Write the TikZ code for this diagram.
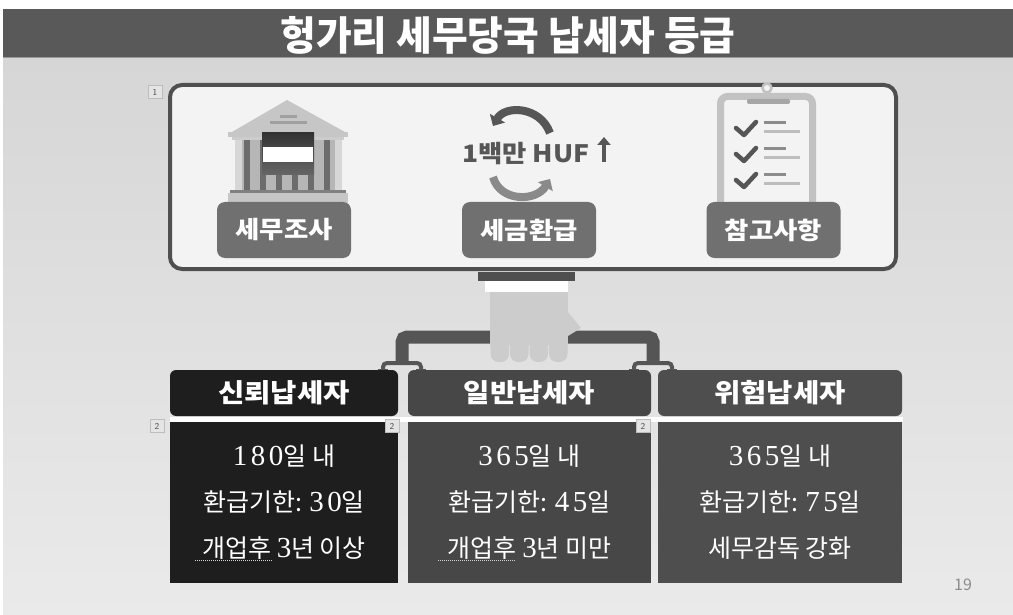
\documentclass[tikz,border=0pt]{standalone}
\usepackage{fontspec}
\setmainfont{Liberation Serif}
\newfontfamily\kr{Noto Sans CJK KR}
\newfontfamily\krtitle{Noto Sans CJK KR}[FakeStretch=0.97]
\newfontfamily\krwide{Noto Sans CJK KR}[FakeStretch=1.1]
\newfontfamily\numfont{Liberation Serif}[LetterSpace=12]
\usetikzlibrary{arrows.meta}

\definecolor{titlebar}{HTML}{595959}
\definecolor{bgtop}{HTML}{D6D6D6}
\definecolor{bgbot}{HTML}{EAEAEA}
\definecolor{frame}{HTML}{4F4F4F}
\definecolor{panelfill}{HTML}{F3F3F3}
\definecolor{tagfill}{HTML}{707070}
\definecolor{darkicon}{HTML}{565656}
\definecolor{lighticon}{HTML}{8A8A8A}
\definecolor{rooflight}{HTML}{C6C6C6}
\definecolor{roofline}{HTML}{A0A0A0}
\definecolor{colmdark}{HTML}{6C6C6C}
\definecolor{clipframe}{HTML}{C2C2C2}
\definecolor{clipbar}{HTML}{A6A6A6}
\definecolor{checkgray}{HTML}{555555}
\definecolor{shortline}{HTML}{8C8C8C}
\definecolor{longline}{HTML}{BDBDBD}
\definecolor{pipegray}{HTML}{555555}
\definecolor{handgray}{HTML}{CCCCCC}
\definecolor{headA}{HTML}{1E1E1E}
\definecolor{headB}{HTML}{474747}
\definecolor{headC}{HTML}{4E4E4E}
\definecolor{markfill}{HTML}{E4E4E4}
\definecolor{markdraw}{HTML}{BDBDBD}
\definecolor{pagegray}{HTML}{8C8C8C}

% digits of the body text are set in a letter-spaced serif face
\newcommand\dg[1]{{\numfont\fontsize{29}{46}\selectfont #1}}

\tikzset{
  tag/.style={fill=tagfill, rounded corners=8pt, minimum width=134pt,
    minimum height=56pt, text=white, inner sep=0pt,
    font=\krwide\bfseries\fontsize{24}{24}\selectfont},
  head/.style={rounded corners=6pt, minimum height=46pt, text=white,
    inner sep=0pt, font=\krwide\bfseries\fontsize{26}{26}\selectfont},
  body/.style={minimum height=161pt, text=white, align=center, inner sep=0pt,
    font=\kr\fontsize{25}{46}\selectfont},
  marker/.style={fill=markfill, draw=markdraw, line width=0.6pt,
    minimum width=14pt, minimum height=13pt, inner sep=0pt,
    font=\sffamily\fontsize{9}{9}\selectfont, text=black!70},
  pipe/.style={draw=pipegray, line width=13pt, rounded corners=5pt},
  forkline/.style={draw=pipegray, line width=4pt},
  squiggle/.style={draw=white!65!gray, line width=1pt, dash pattern=on 1pt off 1pt},
  fork/.pic={
    \draw[forkline, rounded corners=4pt] (-19,9) -- (-19,1) -- (19,1) -- (19,9);
    \fill[pipegray] (-24,7) rectangle (-14,10);
    \fill[pipegray] (14,7) rectangle (24,10);
  },
}

\begin{document}
\begin{tikzpicture}[x=1pt,y=-1pt]
\useasboundingbox (0,0) rectangle (1013,615);
\fill[white] (0,0) rectangle (1013,615);
\shade[top color=bgtop, bottom color=bgbot] (3,57) rectangle (1013,615);

% title bar
\fill[titlebar] (3,9) rectangle (1013,57);
\draw[gray!80, line width=1.5pt] (3,57.5) -- (1013,57.5);
\node[text=white, font=\krtitle\bfseries\fontsize{40}{40}\selectfont] (title) at (508,35) {헝가리 세무당국 납세자 등급};

% upper panel
\node[draw=frame, line width=4pt, fill=panelfill, rounded corners=12pt,
  minimum width=726pt, minimum height=184pt] (panel) at (533,177) {};

% bank building
\fill[rooflight] (232,132) -- (287,100) -- (345,132) -- cycle;
\fill[roofline] (280,115.5) rectangle (297,118.5);
\fill[roofline] (270,121.5) rectangle (307,124.5);
\fill[rooflight] (228,132) rectangle (348,137);
\fill[rooflight!90!white] (232,137) rectangle (344,140);
\fill[rooflight!92!black] (235,140) rectangle (342,190);
\foreach \cx in {247,263,279,295,311,327}
  \fill[colmdark] (\cx-3,140) rectangle (\cx+3,190);
\fill[rooflight!70!white] (235,140) rectangle (242,190);
\fill[rooflight!70!white] (335,140) rectangle (342,190);
\fill[gray] (230,190) rectangle (346,193);
\fill[rooflight] (228,193) rectangle (348,203);
\shade[top color=black!80, bottom color=black!60] (262,133) rectangle (314,175);
\fill[white] (263,147) rectangle (313,162);

% circular arrows and amount
\draw[darkicon, line width=8pt, -{Triangle[length=9pt,width=17pt]}]
  (550,133) .. controls (540,106) and (505,105) .. (493,126);
\draw[lighticon, line width=8pt, -{Triangle[length=9pt,width=17pt]}]
  (493,177) .. controls (500,202) and (536,202) .. (550,179);
\node[anchor=west, text=darkicon, font=\krwide\bfseries\fontsize{24}{24}\selectfont, inner sep=0pt] (huf) at (462,154) {1백만 HUF};
\draw[darkicon, line width=4.5pt, -{Triangle[length=8pt,width=13pt]}] (604,162) -- (604,137);

% clipboard
\draw[clipframe, line width=7pt, fill=panelfill, rounded corners=7pt] (720.5,96.5) rectangle (812.5,214);
\draw[clipframe, line width=2.5pt, fill=panelfill] (767,88) circle (4.5);
\fill[clipbar, rounded corners=2pt] (747,99) rectangle (790,104);
\foreach \dy in {0,26,52} {
  \draw[checkgray, line width=4.5pt, line cap=round, line join=round]
    (736,128+\dy) -- (744,135+\dy) -- (756,122+\dy);
  \draw[shortline, line width=3pt] (764,123+\dy) -- (786,123+\dy);
  \draw[longline, line width=3pt] (764,132+\dy) -- (800,132+\dy);
}

% panel labels
\node[tag] (audit) at (284,230) {세무조사};
\node[tag] (refund) at (529,230) {세금환급};
\node[tag] (notes) at (773.5,230) {참고사항};

% hand holding the panel
\fill[frame] (478,272) rectangle (575,281);
\fill[white] (485,281) rectangle (568,292);
\coordinate (handL) at (492,337);
\coordinate (handR) at (566,337);
\coordinate (forkL) at (402,362);
\coordinate (forkR) at (653,362);
\draw[pipe] (handL) -| (forkL);
\draw[pipe] (handR) -| (forkR);
\pic at (forkL) {fork};
\pic at (forkR) {fork};
\fill[handgray] (490,292) rectangle (568,345);
\fill[handgray] (568,312) -- (581,328) -- (568,336) -- cycle;
\foreach \fx in {490,509.5,529,548.5}
  \fill[handgray, rounded corners=8pt] (\fx+0.5,330) rectangle (\fx+19,362);

% grade headers
\node[head, fill=headA, minimum width=228pt] (trusted) at (284,393) {신뢰납세자};
\node[head, fill=headB, minimum width=243pt] (general) at (529.5,393) {일반납세자};
\node[head, fill=headC, minimum width=244pt] (risky) at (780,393) {위험납세자};
\fill[white] (170,416.5) rectangle (903,421.5);

% grade details
\node[body, fill=headA, minimum width=228pt] (trustedbody) at (284,502.5)
  {\dg{180}일 내\\환급기한: \dg{30}일\\개업후 \dg{3}년 이상};
\node[body, fill=headB, minimum width=243pt] (generalbody) at (529.5,502.5)
  {\dg{365}일 내\\환급기한: \dg{45}일\\개업후 \dg{3}년 미만};
\node[body, fill=headC, minimum width=244pt] (riskybody) at (780,502.5)
  {\dg{365}일 내\\환급기한: \dg{75}일\\세무감독 강화};
\draw[squiggle] (195,560) -- (272,560);
\draw[squiggle] (438,560) -- (516,560);

% sequence markers
\node[marker] (m1) at (155,92) {1};
\node[marker] (m2) at (157,426) {2};
\node[marker] (m3) at (392,426) {2};
\node[marker] (m4) at (643,426) {2};

\node[text=pagegray, font=\kr\fontsize{16}{16}\selectfont] (page) at (963,585) {19};
\end{tikzpicture}
\end{document}
